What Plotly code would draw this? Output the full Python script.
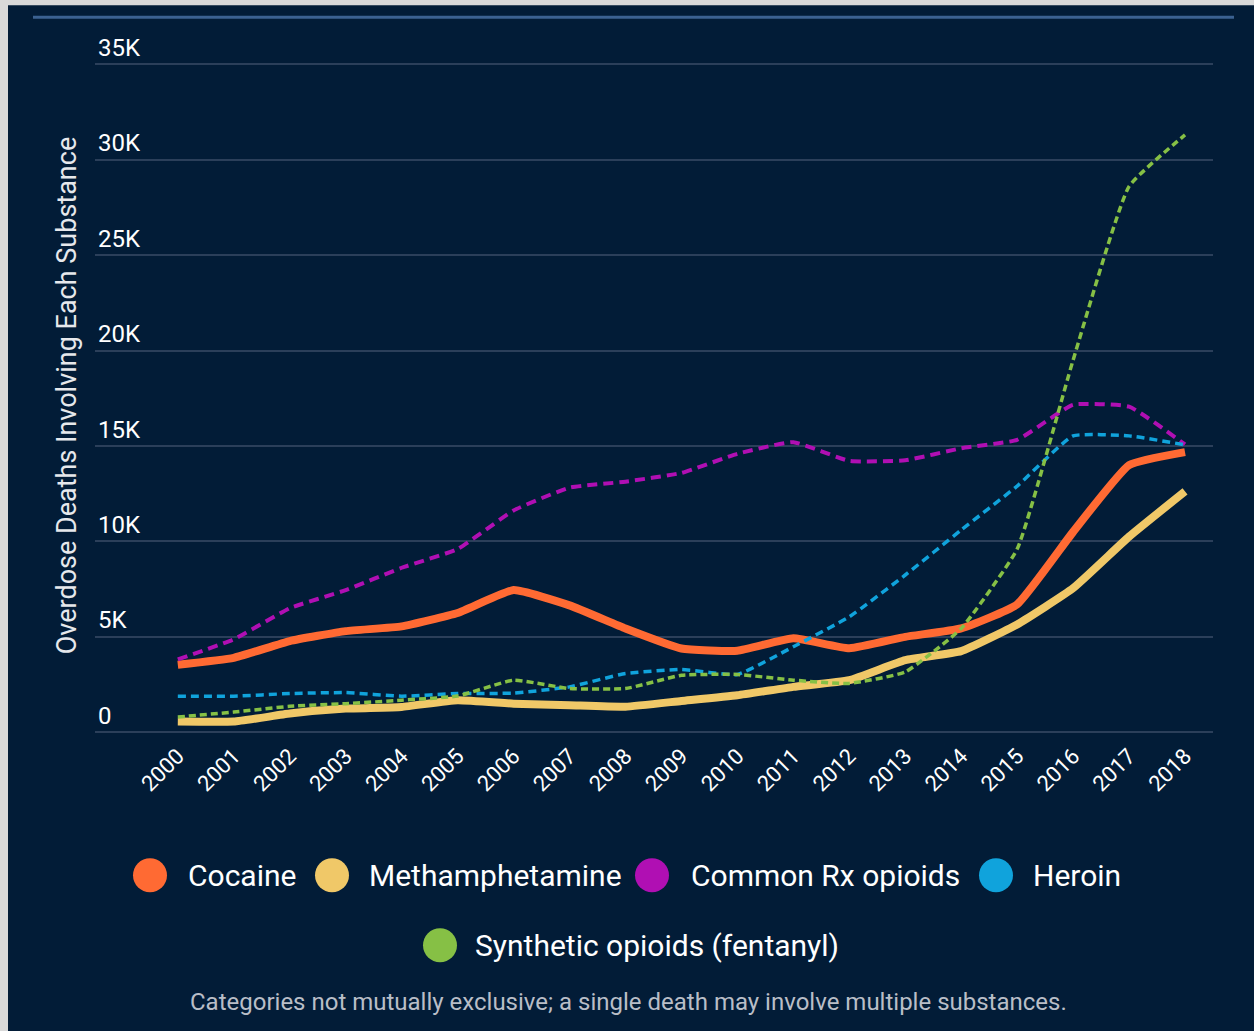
import plotly.graph_objects as go

# ---------------- data ----------------
years = list(range(2000, 2019))
series_names = ["Cocaine", "Methamphetamine", "Common Rx opioids", "Heroin",
                "Synthetic opioids (fentanyl)"]
cocaine = [3540, 3900, 4780, 5300, 5550, 6250, 7450, 6650, 5440, 4390, 4270,
           4920, 4400, 5000, 5440, 6700, 10500, 14000, 14680]
meth = [560, 560, 980, 1240, 1330, 1680, 1500, 1420, 1340, 1640, 1940,
        2380, 2730, 3780, 4250, 5650, 7550, 10250, 12620]
rx_opioids = [3820, 4870, 6500, 7450, 8620, 9600, 11620, 12820, 13130, 13590,
              14590, 15200, 14220, 14250, 14880, 15320, 17160, 17060, 15080]
heroin = [1890, 1890, 2030, 2080, 1890, 2030, 2050, 2380, 3080, 3290, 3030,
          4480, 6050, 8240, 10600, 12900, 15530, 15530, 15060]
synthetic = [800, 1060, 1360, 1500, 1680, 1900, 2730, 2290, 2290, 2990, 3030,
             2730, 2560, 3160, 5440, 9600, 19500, 28600, 31300]
y_tick_vals = [0, 5000, 10000, 15000, 20000, 25000, 30000, 35000]
y_tick_text = ["0", "5K", "10K", "15K", "20K", "25K", "30K", "35K"]
y_title = "Overdose Deaths Involving Each Substance"
footnote = "Categories not mutually exclusive; a single death may involve multiple substances."

# ---------------- styles ----------------
colors = ["#ff6a33", "#f0c868", "#b00fb3", "#10a3dc", "#86c045"]
BG = "#021c37"
GRID = "#2b3f5a"
FONT = "Roboto"

W, H = 1254, 1031
Y0PX = 732            # pixel row of value 0
K = 95.43 / 5000      # pixels per unit
YMIN, YMAX = -300, 36900
ML, MR = 95, 41
MT = Y0PX - YMAX * K
MB = H - (Y0PX - YMIN * K)
PW = W - ML - MR
PH = H - MT - MB


def px_x(px):
    return (px - ML) / PW


def px_y(py):
    return (H - MB - py) / PH


fig = go.Figure()

styles = [
    dict(width=8, dash="solid"),
    dict(width=8, dash="solid"),
    dict(width=4, dash="10px,6px"),
    dict(width=3.5, dash="8px,5px"),
    dict(width=3.5, dash="7px,4px"),
]
values = [cocaine, meth, rx_opioids, heroin, synthetic]

for name, vals, col, st in zip(series_names, values, colors, styles):
    fig.add_trace(go.Scatter(
        x=years, y=vals, name=name, mode="lines",
        line=dict(color=col, width=st["width"], dash=st["dash"],
                  shape="spline", smoothing=0.4),
        showlegend=False, hoverinfo="x+y+name",
    ))

shapes = []
# gray outer frame + navy panel
shapes.append(dict(type="rect", xref="paper", yref="paper",
                   x0=px_x(8), x1=px_x(W + 10), y0=px_y(H + 10), y1=px_y(5),
                   fillcolor=BG, line=dict(width=0), layer="below"))
# top accent line
shapes.append(dict(type="line", xref="paper", yref="paper",
                   x0=px_x(33), x1=px_x(1234), y0=px_y(17), y1=px_y(17),
                   line=dict(color="#3b6191", width=3), layer="below"))

annotations = []
# legend (custom, large circles)
legend_pos = [(150, 186, 875), (332, 367, 875), (652, 689, 875),
              (996, 1031, 875), (440, 473, 945)]
for name, col, (cx, tx, cy) in zip(series_names, colors, legend_pos):
    shapes.append(dict(type="circle", xref="paper", yref="paper",
                       xsizemode="pixel", ysizemode="pixel",
                       xanchor=px_x(cx), yanchor=px_y(cy),
                       x0=-17, x1=17, y0=-17, y1=17,
                       fillcolor=col, line=dict(width=0)))
    annotations.append(dict(text=name, xref="paper", yref="paper",
                            x=px_x(tx), y=px_y(cy), xanchor="left",
                            yanchor="middle", showarrow=False,
                            font=dict(family=FONT, size=30, color="white")))

annotations.append(dict(text=y_title, xref="paper", yref="paper",
                        x=px_x(67), y=px_y(396), xanchor="center",
                        yanchor="middle", textangle=-90, showarrow=False,
                        font=dict(family=FONT, size=27, color="#e6e8ec")))
annotations.append(dict(text=footnote, xref="paper", yref="paper",
                        x=px_x(628), y=px_y(1002), xanchor="center",
                        yanchor="middle", showarrow=False,
                        font=dict(family=FONT, size=24, color="#b9bec7")))

fig.update_layout(
    width=W, height=H,
    margin=dict(l=ML, r=MR, t=MT, b=MB, pad=0),
    paper_bgcolor="#d9d9d9",
    plot_bgcolor="rgba(0,0,0,0)",
    shapes=shapes,
    annotations=annotations,
    showlegend=False,
    font=dict(family=FONT, color="white"),
    xaxis=dict(
        range=[1998.52, 2018.5], tickmode="array", tickvals=years,
        ticktext=[str(y) for y in years], tickangle=-45,
        showgrid=False, zeroline=False, showline=False,
        tickfont=dict(family=FONT, size=22, color="white"),
        ticks="", fixedrange=True,
    ),
    yaxis=dict(
        range=[YMIN, YMAX], tickmode="array", tickvals=y_tick_vals,
        ticktext=y_tick_text, ticklabelposition="inside top",
        showgrid=True, gridcolor=GRID, gridwidth=2,
        zeroline=False, showline=False, ticks="",
        tickfont=dict(family=FONT, size=24, color="white"),
        fixedrange=True,
    ),
)

fig.write_html("out.html",
               config={"displayModeBar": False},
               post_script="document.body.style.margin='0px';"
                           "document.body.style.overflow='hidden';")
